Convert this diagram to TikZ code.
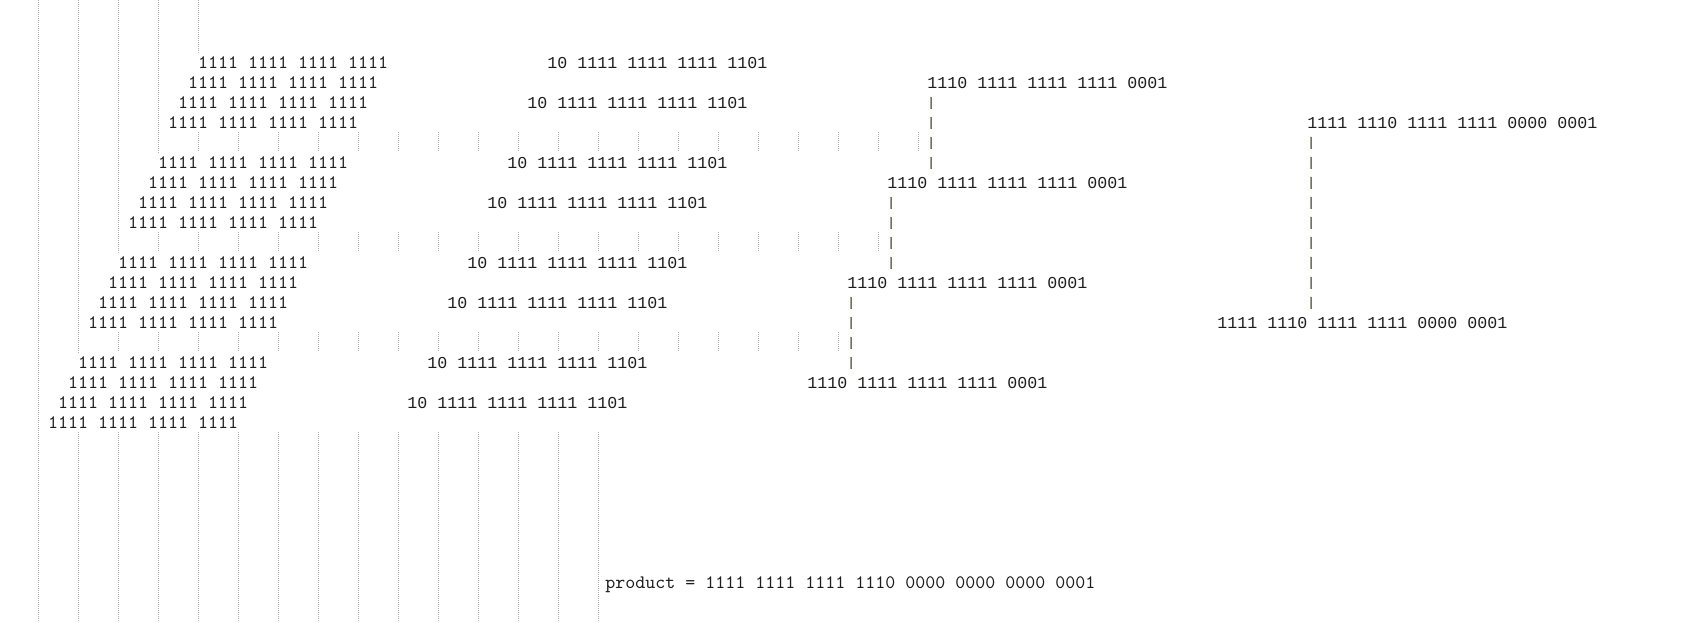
\documentclass[tikz,border=0pt]{standalone}
\usepackage{fontspec}
\newfontfamily\sansmono{Liberation Mono}
\usetikzlibrary{calc}
\definecolor{ink}{HTML}{1E1E1E}
\definecolor{gridc}{HTML}{B0B0B0}
\definecolor{pipeo}{HTML}{D8943A}
\definecolor{pipeb}{HTML}{3C7CC0}
\begin{document}
\begin{tikzpicture}[x=0.5pt,y=-0.5pt,
  serifmono/.style={font=\fontsize{9.5238pt}{10pt}\ttfamily, text=ink, inner sep=0pt, anchor=base west},
  sansmonotxt/.style={font=\fontsize{8.3306pt}{10pt}\sansmono, text=ink, inner sep=0pt, anchor=base west},
  gridline/.style={draw=gridc, line width=0.5pt, dash pattern=on 0.5pt off 0.5pt},
  pipeL/.style={draw=pipeo, line width=0.5pt, dash pattern=on 6.3pt off 3.7pt, transform canvas={xshift=-0.25pt}},
  pipeR/.style={draw=pipeb, line width=0.5pt, dash pattern=on 6.3pt off 3.7pt, transform canvas={xshift=0.25pt}}
]
\useasboundingbox (0,0) rectangle (1704,622);

% dotted column lines
\draw[gridline] (38,0) -- (38,622);
\draw[gridline] (78,0) -- (78,352.3);
\draw[gridline] (118,0) -- (118,252.3);
\draw[gridline] (158,0) -- (158,152.3);
\draw[gridline] (198,0) -- (198,52.3);
\foreach \k in {4,...,22} {\draw[gridline] (38+40*\k,132.3) -- (38+40*\k,152.3);}
\foreach \k in {3,...,21} {\draw[gridline] (38+40*\k,232.3) -- (38+40*\k,252.3);}
\foreach \k in {2,...,20} {\draw[gridline] (38+40*\k,332.3) -- (38+40*\k,352.3);}
\foreach \k in {1,...,14} {\draw[gridline] (38+40*\k,432.3) -- (38+40*\k,622);}

% left block
\foreach \k in {0,...,15} {
  \pgfmathtruncatemacro\r{\k+floor(\k/4)}
  \node[serifmono] (L\k) at (197.7-10*\k, 68+20*\r) {1111 1111 1111 1111};
}
% middle block
\foreach \r [count=\j from 0] in {0,2,5,7,10,12,15,17} {
  \node[sansmonotxt] (M\j) at (547-20*\j, 68+20*\r) {10 1111 1111 1111 1101};
}
% right block
\foreach \r [count=\j from 0] in {1,6,11,16} {
  \node[sansmonotxt] (R\j) at (927-40*\j, 68+20*\r) {1110 1111 1111 1111 0001};
}
\node[sansmonotxt] (S1) at (1307, 128) {1111 1110 1111 1111 0000 0001};
\node[sansmonotxt] (S2) at (1217, 328) {1111 1110 1111 1111 0000 0001};
\node[serifmono] (P) at (605, 588) {product = 1111 1111 1111 1110 0000 0000 0000 0001};

% connectors
\foreach \j/\n in {0/1,1/2,2/3} {
  \coordinate (pa\j) at ($(R\j.base west)+(4,8.7)$);
  \coordinate (pb\j) at ($(R\j.base west |- R\n.base west)+(4,-18.7)$);
  \draw[pipeL] (pa\j) -- (pb\j);
  \draw[pipeR] (pa\j) -- (pb\j);
}
\coordinate (sa) at ($(S1.base west)+(4,8.7)$);
\coordinate (sb) at ($(S1.base west |- S2.base west)+(4,-18.7)$);
\draw[pipeL] (sa) -- (sb);
\draw[pipeR] (sa) -- (sb);
\end{tikzpicture}
\end{document}
